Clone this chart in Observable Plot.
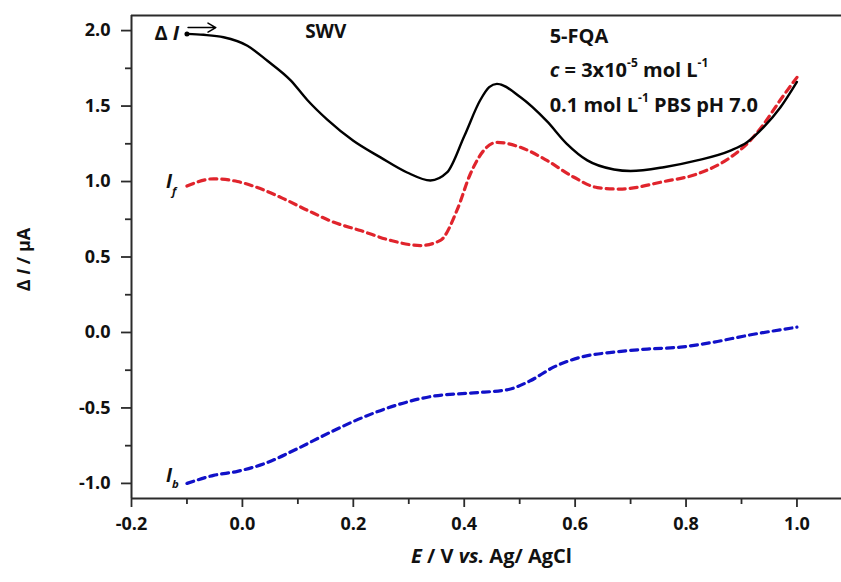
<!DOCTYPE html>
<html><head><meta charset="utf-8">
<script src="https://cdn.jsdelivr.net/npm/d3@7"></script>
<script src="https://cdn.jsdelivr.net/npm/@observablehq/plot@0.6"></script>
<style>body{margin:0;background:#fff;overflow:hidden} #chart{width:841px;height:582px;overflow:hidden} #chart svg{display:block;max-width:none !important;width:880px !important;height:582px !important}</style>
</head><body><div id="chart"></div>
<script>
// ΔI (net) curve, black solid
const dE = [-0.1, -0.07, -0.034, 0.009, 0.045, 0.087, 0.117, 0.153, 0.2, 0.249, 0.297, 0.339, 0.369, 0.40, 0.429, 0.445, 0.459, 0.501, 0.549, 0.585, 0.622, 0.67, 0.70, 0.76, 0.82, 0.88, 0.91, 0.94, 0.97, 1.0];
const dI = [1.978, 1.972, 1.956, 1.90, 1.80, 1.67, 1.54, 1.41, 1.27, 1.16, 1.06, 1.007, 1.06, 1.30, 1.54, 1.625, 1.647, 1.56, 1.40, 1.25, 1.14, 1.08, 1.07, 1.095, 1.14, 1.205, 1.26, 1.36, 1.49, 1.66];
// If (forward) curve, red dashed
const fE = [-0.1, -0.052, -0.009, 0.027, 0.075, 0.117, 0.165, 0.213, 0.267, 0.321, 0.357, 0.387, 0.411, 0.435, 0.459, 0.501, 0.549, 0.597, 0.64, 0.68, 0.76, 0.82, 0.88, 0.91, 0.94, 0.97, 1.0];
const fI = [0.97, 1.018, 1.0, 0.96, 0.885, 0.81, 0.73, 0.675, 0.61, 0.576, 0.61, 0.81, 1.05, 1.205, 1.26, 1.227, 1.14, 1.03, 0.96, 0.95, 1.0, 1.05, 1.16, 1.25, 1.38, 1.54, 1.69];
// Ib (backward) curve, blue dashed
const bE = [-0.1, -0.052, -0.009, 0.039, 0.099, 0.159, 0.219, 0.279, 0.339, 0.417, 0.477, 0.519, 0.561, 0.61, 0.67, 0.73, 0.79, 0.85, 0.91, 1.0];
const bI = [-1.0, -0.947, -0.92, -0.87, -0.77, -0.66, -0.56, -0.48, -0.425, -0.40, -0.38, -0.32, -0.23, -0.164, -0.13, -0.11, -0.097, -0.064, -0.02, 0.035];

const xDomain = [-0.2, 1.12];
const yDomain = [-1.1, 2.1];
const xMajor = [-0.2, 0.0, 0.2, 0.4, 0.6, 0.8, 1.0];
const xMinor = [-0.1, 0.1, 0.3, 0.5, 0.7, 0.9];
const yMajor = [-1.0, -0.5, 0.0, 0.5, 1.0, 1.5, 2.0];
const yMinor = [-0.75, -0.25, 0.25, 0.75, 1.25, 1.75];

const toRows = (E, I) => E.map((e, i) => ({E: e, I: I[i]}));
const dRows = toRows(dE, dI), fRows = toRows(fE, fI), bRows = toRows(bE, bI);

const FONT = "'Open Sans', Lato, sans-serif";
const AX = "#2b2b2b";
const fmt = d => d.toFixed(1);

// the frame continues past the right edge of the 841px window, as in the cropped original
const chart = Plot.plot({
  width: 880, height: 582,
  marginLeft: 131, marginRight: 17, marginTop: 15, marginBottom: 84,
  style: {fontFamily: FONT, fontSize: "18px", fontWeight: "bold", color: "#111", background: "white", maxWidth: "none"},
  x: {domain: xDomain},
  y: {domain: yDomain},
  marks: [
    Plot.axisX(xMajor, {tickSize: 9, tickPadding: 10, tickFormat: fmt, label: null, stroke: AX, strokeWidth: 1.8, fill: "#111"}),
    Plot.axisX(xMinor, {tickSize: 6, text: null, label: null, stroke: AX, strokeWidth: 1.8}),
    Plot.axisY(yMajor, {tickSize: 10, tickPadding: 11, tickFormat: fmt, label: null, stroke: AX, strokeWidth: 1.8, fill: "#111"}),
    Plot.axisY(yMinor, {tickSize: 6, text: null, label: null, stroke: AX, strokeWidth: 1.8}),
    Plot.ruleY([yDomain[1]], {stroke: AX, strokeWidth: 2}),
    Plot.ruleY([yDomain[0]], {stroke: AX, strokeWidth: 2}),
    Plot.ruleX([xDomain[0]], {stroke: AX, strokeWidth: 2}),
    Plot.line(bRows, {x: "E", y: "I", stroke: "#1111c8", strokeWidth: 3.2, strokeDasharray: "7,5", curve: "monotone-x"}),
    Plot.line(fRows, {x: "E", y: "I", stroke: "#e0242c", strokeWidth: 3.2, strokeDasharray: "7,5", curve: "monotone-x"}),
    Plot.line(dRows, {x: "E", y: "I", stroke: "#000", strokeWidth: 2.4, curve: "monotone-x"}),
    Plot.dot([dRows[0]], {x: "E", y: "I", r: 2.5, fill: "#000"}),
    Plot.arrow([{x1: -0.098, x2: -0.048, y: 2.02}], {x1: "x1", x2: "x2", y1: "y", y2: "y", stroke: "#000", strokeWidth: 1.5, headLength: 9})
  ]
});

document.getElementById("chart").append(chart);

// rich-text annotations (italics, sub/superscripts) placed through the plot's scales
const sx = v => chart.scale("x").apply(v);
const sy = v => chart.scale("y").apply(v);
const svg = d3.select(chart);

function rich(px, py, parts, {anchor = "start", size = 18, rotate = 0} = {}) {
  const t = svg.append("text")
    .attr("transform", `translate(${px},${py}) rotate(${rotate})`)
    .attr("text-anchor", anchor)
    .attr("dominant-baseline", "middle")
    .style("font-family", FONT).style("font-weight", "bold")
    .style("font-size", size + "px").attr("fill", "#111");
  let shift = 0;
  for (const p of parts) {
    const s = t.append("tspan").text(p.t);
    let target = 0;
    if (p.sup) target = -0.42 * size;
    if (p.sub) target = 0.45 * size;
    if (target !== shift) { s.attr("dy", target - shift); shift = target; }
    if (p.sup || p.sub) s.style("font-size", (size * 0.6) + "px");
    if (p.it) s.style("font-style", "italic");
  }
  return t;
}

rich(sx(-0.113), sy(1.967), [{t: "Δ "}, {t: "I", it: true}], {anchor: "end", size: 20});
rich(sx(0.114), sy(1.98), [{t: "SWV"}], {size: 19});
rich(sx(0.555), sy(1.95), [{t: "5-FQA"}], {size: 20});
rich(sx(0.555), sy(1.72), [{t: "c", it: true}, {t: " = 3x10"}, {t: "-5", sup: true}, {t: " mol L"}, {t: "-1", sup: true}], {size: 20});
rich(sx(0.555), sy(1.49), [{t: "0.1 mol L"}, {t: "-1", sup: true}, {t: " PBS pH 7.0"}], {size: 20});
rich(sx(-0.137), sy(0.987), [{t: "I", it: true}, {t: "f", sub: true, it: true}], {size: 19});
rich(sx(-0.137), sy(-0.96), [{t: "I", it: true}, {t: "b", sub: true, it: true}], {size: 19});
rich(sx(0.45), 558, [{t: "E", it: true}, {t: " / V "}, {t: "vs.", it: true}, {t: " Ag/ AgCl"}], {anchor: "middle", size: 20});
rich(25, sy(0.48), [{t: "Δ "}, {t: "I", it: true}, {t: " / μA"}], {anchor: "middle", size: 18, rotate: -90});
</script>
</body></html>
